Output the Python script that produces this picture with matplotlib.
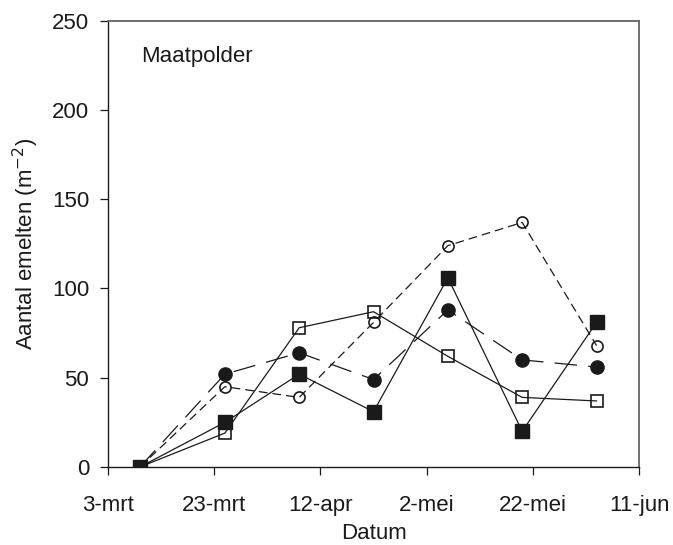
import matplotlib
matplotlib.use('Agg')
import matplotlib.pyplot as plt
import pandas as pd

plt.rcParams['font.family'] = ['Liberation Sans', 'DejaVu Sans']

# sampling dates (year only needed for the calendar)
dates = pd.to_datetime(['2003-03-09', '2003-03-25', '2003-04-08', '2003-04-22',
                        '2003-05-06', '2003-05-20', '2003-06-03'])

filled_square = [0, 25, 52, 31, 106, 20, 81]
open_square = [0, 19, 78, 87, 62, 39, 37]
filled_circle = [0, 52, 64, 49, 88, 60, 56]
open_circle = [0, 45, 39, 81, 124, 137, 68]

tick_dates = pd.to_datetime(['2003-03-03', '2003-03-23', '2003-04-12',
                             '2003-05-02', '2003-05-22', '2003-06-11'])
tick_labels = ['3-mrt', '23-mrt', '12-apr', '2-mei', '22-mei', '11-jun']
y_ticks = [0, 50, 100, 150, 200, 250]

ink = '#1a1a1a'

fig = plt.figure(figsize=(6.73, 5.45), dpi=100)
ax = fig.add_axes([0.1605, 0.1431, 0.789, 0.8189])

ax.plot(dates, open_circle, color=ink, lw=0.9, dashes=(7, 4),
        marker='o', ms=8, mfc='none', mec=ink, mew=1.2, zorder=3)
ax.plot(dates, open_square, color=ink, lw=0.9, ls='-',
        marker='s', ms=8.5, mfc='none', mec=ink, mew=1.2, zorder=4)
ax.plot(dates, filled_circle, color=ink, lw=0.9, dashes=(18, 9),
        marker='o', ms=9.5, mfc=ink, mec=ink, zorder=5)
ax.plot(dates, filled_square, color=ink, lw=0.9, ls='-',
        marker='s', ms=9.5, mfc=ink, mec=ink, zorder=6)

ax.set_xlim(tick_dates[0], tick_dates[-1])
ax.set_ylim(0, 250)
ax.set_xticks(tick_dates)
ax.set_xticklabels(tick_labels)
ax.set_yticks(y_ticks)

ax.tick_params(direction='out', length=5.5, width=0.9, labelsize=16, pad=8, colors=ink)
ax.tick_params(axis='x', pad=15)
for side in ['left', 'bottom']:
    ax.spines[side].set_linewidth(1.0)
    ax.spines[side].set_color(ink)
for side in ['top', 'right']:
    ax.spines[side].set_linewidth(1.3)
    ax.spines[side].set_color('#666666')

ax.set_xlabel('Datum', fontsize=16, labelpad=5, color=ink)
ax.set_ylabel('Aantal emelten (m$^{-2}$)', fontsize=16, labelpad=8, color=ink)

ax.text(0.062, 0.908, 'Maatpolder', transform=ax.transAxes, fontsize=16,
        va='baseline', ha='left', color=ink)

fig.savefig('out.png', dpi=100)
